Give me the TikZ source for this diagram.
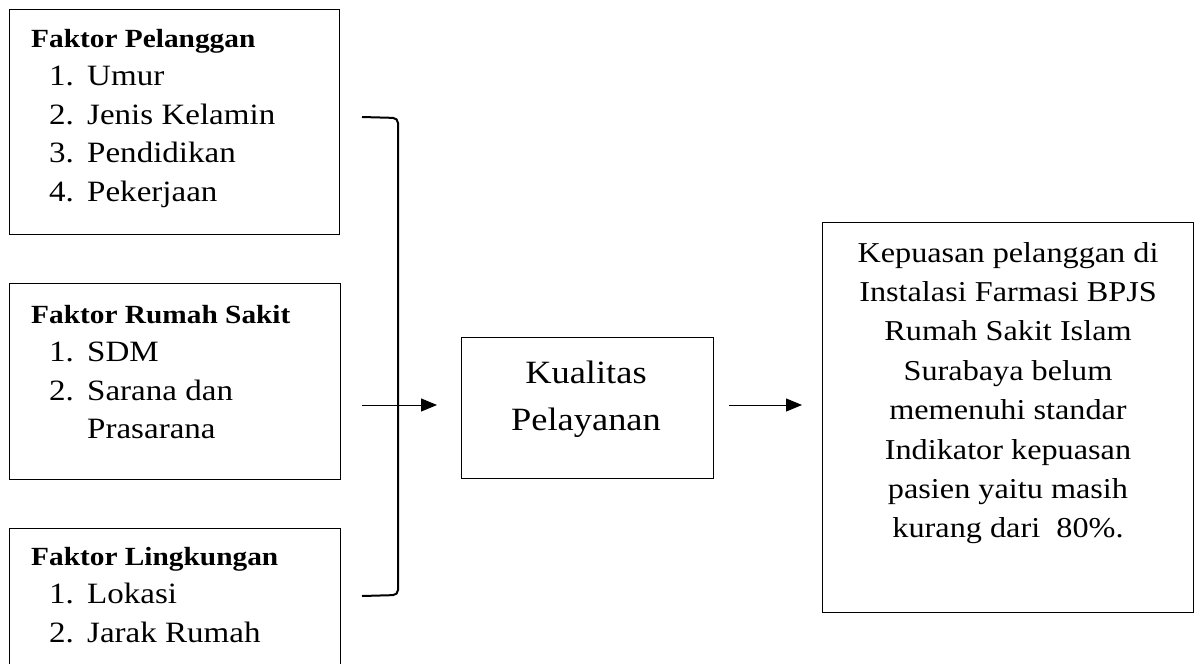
\documentclass[tikz,border=0pt]{standalone}
\usepackage{fontspec}
\setmainfont{Liberation Serif}[FakeStretch=1.12]
\usetikzlibrary{positioning,arrows.meta}

\newcommand{\judul}[1]{{\fontsize{26.2}{38.5}\selectfont\bfseries #1}}
\newcommand{\butir}[2]{\hspace*{18pt}\makebox[38pt][l]{#1}#2}

\begin{document}
\begin{tikzpicture}[x=1pt,y=-1pt,
    kotak/.style={draw, line width=1.1pt, inner sep=0pt, anchor=north west},
    isi/.style={inner sep=0pt, anchor=base west, font=\fontsize{29.5}{38.5}\selectfont},
    panah/.style={-{Triangle[length=16pt,width=13pt]}, line width=1pt}]
        \useasboundingbox (0,0) rectangle (1197,664);
        % kotak faktor
        \node[kotak, minimum width=330pt, minimum height=225pt] (pelanggan) at (9,9) {};
        \node[kotak, minimum width=331pt, minimum height=196pt] (rumahsakit) at (9,283) {};
        \node[kotak, minimum width=331pt, minimum height=170pt] (lingkungan) at (9,528) {};
        \node[isi] (teksPelanggan) at (31,47) {\begin{tabular}[t]{@{}l@{}}\judul{Faktor Pelanggan}\\ \butir{1.}{Umur}\\ \butir{2.}{Jenis Kelamin}\\ \butir{3.}{Pendidikan}\\ \butir{4.}{Pekerjaan}\end{tabular}};
        \node[isi] (teksRumahSakit) at (31,323) {\begin{tabular}[t]{@{}l@{}}\judul{Faktor Rumah Sakit}\\ \butir{1.}{SDM}\\ \butir{2.}{Sarana dan}\\ \butir{}{Prasarana}\end{tabular}};
        \node[isi] (teksLingkungan) at (31,565) {\begin{tabular}[t]{@{}l@{}}\judul{Faktor Lingkungan}\\ \butir{1.}{Lokasi}\\ \butir{2.}{Jarak Rumah}\end{tabular}};
        % kurung
        \coordinate (kurungAtas) at (362,117);
        \coordinate (kurungBawah) at (362,596);
        \draw[line width=2pt, rounded corners=5pt] (kurungAtas) -- (398,118) -- (398,595) -- (kurungBawah);
        % kualitas dan kepuasan
        \node[kotak, minimum width=252pt, minimum height=141pt] (kualitas) at (461,337) {};
        \node[isi, anchor=base, font=\fontsize{32.5}{47}\selectfont] (teksKualitas) at (586,383) {\begin{tabular}[t]{@{}c@{}}Kualitas\\ Pelayanan\end{tabular}};
        \node[kotak, minimum width=371pt, minimum height=390pt] (kepuasan) at (822,222) {};
        \node[isi, anchor=base, font=\fontsize{28.8}{39.4}\selectfont] (teksKepuasan) at (1008,262) {\begin{tabular}[t]{@{}c@{}}Kepuasan pelanggan di\\ Instalasi Farmasi BPJS\\ Rumah Sakit Islam\\ Surabaya belum\\ memenuhi standar\\ Indikator kepuasan\\ pasien yaitu masih\\ kurang dari\ \ 80\%.\end{tabular}};
        % panah
        \coordinate (mulai) at (362,405);
        \draw[panah, shorten >=24pt] (mulai) -- (mulai -| kualitas.west);
        \draw[panah, shorten <=15pt, shorten >=20pt] (kualitas.east |- mulai) -- (kepuasan.west |- mulai);
\end{tikzpicture}
\end{document}
